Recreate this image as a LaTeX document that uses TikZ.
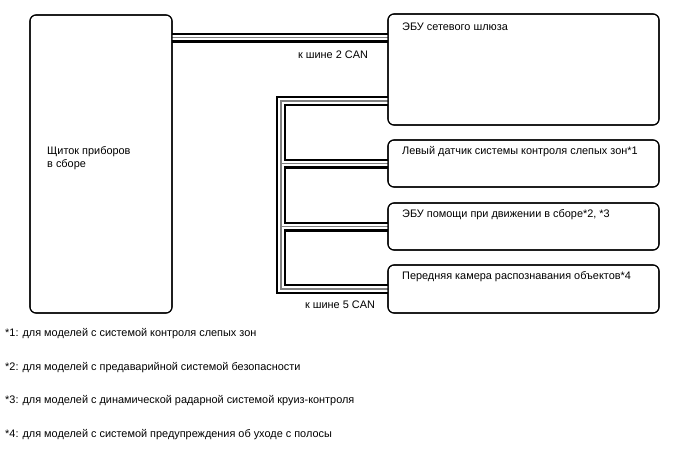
\documentclass[tikz,border=0pt]{standalone}
\usepackage{fontspec}
\setmainfont{Liberation Sans}
\usetikzlibrary{calc}

\begin{document}
\begin{tikzpicture}[x=1pt,y=-1pt,
    ecubox/.style={draw=black, line width=1.1pt, rounded corners=6pt, inner sep=0pt, outer sep=0pt, anchor=north west},
    txt/.style={inner sep=0pt, anchor=west, font=\fontsize{10.9}{13}\selectfont},
    busouter/.style={draw=black, line width=10pt, line join=miter},
    businner/.style={draw=white, line width=5.4pt, line join=miter},
    buscore/.style={draw=black!50, line width=1.1pt, line join=miter},
  ]
  \useasboundingbox (0,0) rectangle (688,463);

  \node [ecubox, minimum width=142pt, minimum height=298pt] (meter) at (30,15) {};
  \node [ecubox, minimum width=271pt, minimum height=111pt] (gateway) at (388,14) {};
  \node [ecubox, minimum width=271pt, minimum height=47pt] (bsm) at (388,140) {};
  \node [ecubox, minimum width=271pt, minimum height=47pt] (dsu) at (388,203) {};
  \node [ecubox, minimum width=271pt, minimum height=48pt] (cam) at (388,265) {};

  \coordinate (can2l) at (meter.east |- 0,37.5);
  \coordinate (can2r) at (gateway.west |- 0,37.5);
  \coordinate (can5gw) at (gateway.west |- 0,101);
  \coordinate (can5top) at (281,101);
  \coordinate (can5bot) at (can5top |- cam.west);

  \foreach \layer in {busouter,businner,buscore} {
    \draw [\layer] (can2l) -- (can2r);
    \draw [\layer] (can5gw) -- (can5top) -- (can5bot) -- (cam.west);
    \draw [\layer] (can5top |- bsm.west) -- (bsm.west);
    \draw [\layer] (can5top |- dsu.west) -- (dsu.west);
  }

  \draw [ecubox] (meter.north west) rectangle (meter.south east);
  \draw [ecubox] (gateway.north west) rectangle (gateway.south east);
  \draw [ecubox] (bsm.north west) rectangle (bsm.south east);
  \draw [ecubox] (dsu.north west) rectangle (dsu.south east);
  \draw [ecubox] (cam.north west) rectangle (cam.south east);

  \node [txt, align=left] (meterlbl) at (47,158.5) {Щиток приборов\\в сборе};
  \node [txt] (gatewaylbl) at (402,27) {ЭБУ сетевого шлюза};
  \node [txt] (bsmlbl) at (402,152) {Левый датчик системы контроля слепых зон*1};
  \node [txt] (dsulbl) at (402,215) {ЭБУ помощи при движении в сборе*2, *3};
  \node [txt] (camlbl) at (402,277) {Передняя камера распознавания объектов*4};

  \node [txt, anchor=center] (can2lbl) at (333,54.5) {к шине 2 CAN};
  \node [txt, anchor=center] (can5lbl) at (340,305) {к шине 5 CAN};

  \node [txt] (note1) at (5,334) {*1: для моделей с системой контроля слепых зон};
  \node [txt] (note2) at (5,367.5) {*2: для моделей с предаварийной системой безопасности};
  \node [txt] (note3) at (5,401) {*3: для моделей с динамической радарной системой круиз-контроля};
  \node [txt] (note4) at (5,434.5) {*4: для моделей с системой предупреждения об уходе с полосы};
\end{tikzpicture}
\end{document}
